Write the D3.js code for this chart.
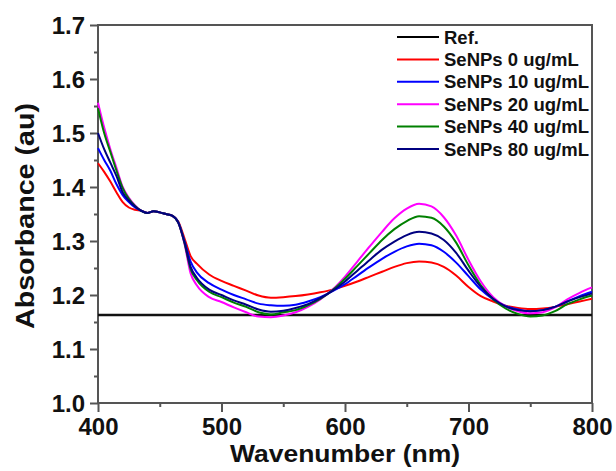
<!DOCTYPE html>
<html>
<head>
<meta charset="utf-8">
<script src="https://cdn.jsdelivr.net/npm/d3@7"></script>
<style>
body { margin:0; background:white; }
text { font-family:"Liberation Sans", Arial, sans-serif; font-weight:bold; fill:#111; }
</style>
</head>
<body>
<svg id="chart" width="616" height="471"></svg>
<script>
//Wavelength grid (nm)
var wave= [400,405,410,415,420,425,430,435,440,445,450,455,460,465,470,475,480,490,500,510,520,530,540,550,
           560,570,580,590,600,610,620,630,640,650,660,670,680,690,700,710,720,730,740,750,760,770,780,790,800];

//Absorbance for each sample
var se0=  [1.444,1.428,1.410,1.390,1.372,1.362,1.358,1.356,1.352,1.355,1.353,1.350,1.347,1.336,1.305,1.272,1.258,1.238,1.226,1.217,1.208,1.199,1.195,1.196,
           1.198,1.201,1.205,1.210,1.217,1.225,1.234,1.243,1.252,1.259,1.262,1.260,1.252,1.236,1.215,1.198,1.188,1.180,1.176,1.174,1.175,1.178,1.183,1.188,1.193];
var se10= [1.472,1.450,1.430,1.405,1.385,1.372,1.362,1.356,1.352,1.355,1.353,1.350,1.347,1.335,1.300,1.262,1.242,1.222,1.210,1.200,1.192,1.184,1.181,1.180,
           1.182,1.188,1.196,1.207,1.220,1.236,1.252,1.267,1.280,1.290,1.295,1.292,1.280,1.260,1.235,1.210,1.192,1.180,1.173,1.170,1.172,1.178,1.188,1.198,1.206];
var se20= [1.556,1.510,1.470,1.435,1.400,1.380,1.366,1.356,1.352,1.355,1.353,1.350,1.347,1.334,1.295,1.240,1.218,1.196,1.187,1.177,1.168,1.160,1.159,1.162,
           1.168,1.178,1.192,1.210,1.234,1.262,1.290,1.317,1.342,1.360,1.369,1.364,1.344,1.310,1.265,1.225,1.196,1.179,1.170,1.166,1.168,1.177,1.192,1.204,1.214];
var se40= [1.546,1.500,1.465,1.430,1.398,1.378,1.365,1.356,1.352,1.355,1.353,1.350,1.347,1.334,1.297,1.248,1.228,1.206,1.196,1.186,1.178,1.168,1.164,1.168,
           1.172,1.181,1.193,1.209,1.230,1.254,1.278,1.302,1.322,1.337,1.346,1.343,1.327,1.297,1.255,1.218,1.192,1.175,1.165,1.160,1.162,1.170,1.183,1.192,1.199];
var se80= [1.500,1.470,1.445,1.420,1.390,1.375,1.364,1.356,1.352,1.355,1.353,1.350,1.347,1.334,1.298,1.252,1.232,1.210,1.200,1.190,1.182,1.173,1.169,1.171,
           1.176,1.183,1.194,1.208,1.225,1.245,1.265,1.284,1.299,1.311,1.317,1.314,1.302,1.278,1.245,1.215,1.193,1.179,1.172,1.170,1.172,1.178,1.188,1.196,1.203];

var refValue= 1.163;

var labels= ["Ref.","SeNPs 0 ug/mL","SeNPs 10 ug/mL","SeNPs 20 ug/mL","SeNPs 40 ug/mL","SeNPs 80 ug/mL"];
var colors= ["#000000","#FF0000","#0000FF","#FF00FF","#008000","#000080"];

var xTicks= [400,500,600,700,800];
var yTicks= [1.0,1.1,1.2,1.3,1.4,1.5,1.6,1.7];

//Plot area
var pLeft= 98, pRight= 592, pTop= 25, pBottom= 403;

var svg= d3.select("#chart");

var x= d3.scaleLinear().domain([400,800]).range([pLeft,pRight]);
var y= d3.scaleLinear().domain([1.0,1.7]).range([pBottom,pTop]);

var axisColor= "#555";

//Minor ticks first, then major ticks with labels
var xMinor= d3.axisBottom(x).tickValues([450,550,650,750]).tickSize(4).tickFormat("");
var yMinor= d3.axisLeft(y).tickValues(d3.range(1.05,1.7,0.1)).tickSize(4).tickFormat("");

svg.append("g").attr("transform","translate(0,"+pBottom+")").call(xMinor);
svg.append("g").attr("transform","translate("+pLeft+",0)").call(yMinor);

var gx= svg.append("g")
           .attr("transform","translate(0,"+pBottom+")")
           .call(d3.axisBottom(x).tickValues(xTicks).tickSize(9).tickPadding(4).tickFormat(d3.format("d")));
var gy= svg.append("g")
           .attr("transform","translate("+pLeft+",0)")
           .call(d3.axisLeft(y).tickValues(yTicks).tickSize(8).tickPadding(5).tickFormat(d3.format(".1f")));

svg.selectAll(".domain").remove();
svg.selectAll(".tick line").attr("stroke",axisColor).attr("stroke-width",2);
gx.selectAll("text").attr("font-size",24).attr("dy","0.78em").attr("fill","#111");
gy.selectAll("text").attr("font-size",24).attr("dy","0.36em").attr("fill","#111");

//Frame around the plot
svg.append("rect")
   .attr("x",pLeft).attr("y",pTop)
   .attr("width",pRight-pLeft).attr("height",pBottom-pTop)
   .attr("fill","none")
   .attr("stroke",axisColor)
   .attr("stroke-width",2);

//Reference line
svg.append("line")
   .attr("x1",x(400)).attr("x2",x(800))
   .attr("y1",y(refValue)).attr("y2",y(refValue))
   .attr("stroke","#111")
   .attr("stroke-width",2.5);

var line= d3.line()
            .x(function(d,i) { return x(wave[i]); })
            .y(function(d) { return y(d); })
            .curve(d3.curveMonotoneX);

var series= [se0,se10,se20,se40,se80];
series.forEach(function(s,i) {
    svg.append("path")
       .attr("d",line(s))
       .attr("fill","none")
       .attr("stroke",colors[i+1])
       .attr("stroke-width",2);
});

//Legend
var legend= svg.append("g");
labels.forEach(function(lab,i) {
    var ly= 37 + i*22.4;
    legend.append("line")
          .attr("x1",397).attr("x2",439)
          .attr("y1",ly).attr("y2",ly)
          .attr("stroke",colors[i])
          .attr("stroke-width",2);
    legend.append("text")
          .attr("x",444).attr("y",ly)
          .attr("dy","0.36em")
          .attr("font-size",18.5)
          .text(lab);
});

//Axis titles
svg.append("text")
   .attr("x",(pLeft+pRight)/2).attr("y",462)
   .attr("text-anchor","middle")
   .attr("font-size",23)
   .attr("textLength",230)
   .attr("lengthAdjust","spacingAndGlyphs")
   .text("Wavenumber (nm)");

svg.append("text")
   .attr("transform","translate(34,"+((pTop+pBottom)/2+2)+") rotate(-90)")
   .attr("text-anchor","middle")
   .attr("font-size",25)
   .attr("textLength",226)
   .attr("lengthAdjust","spacingAndGlyphs")
   .text("Absorbance (au)");
</script>
</body>
</html>
